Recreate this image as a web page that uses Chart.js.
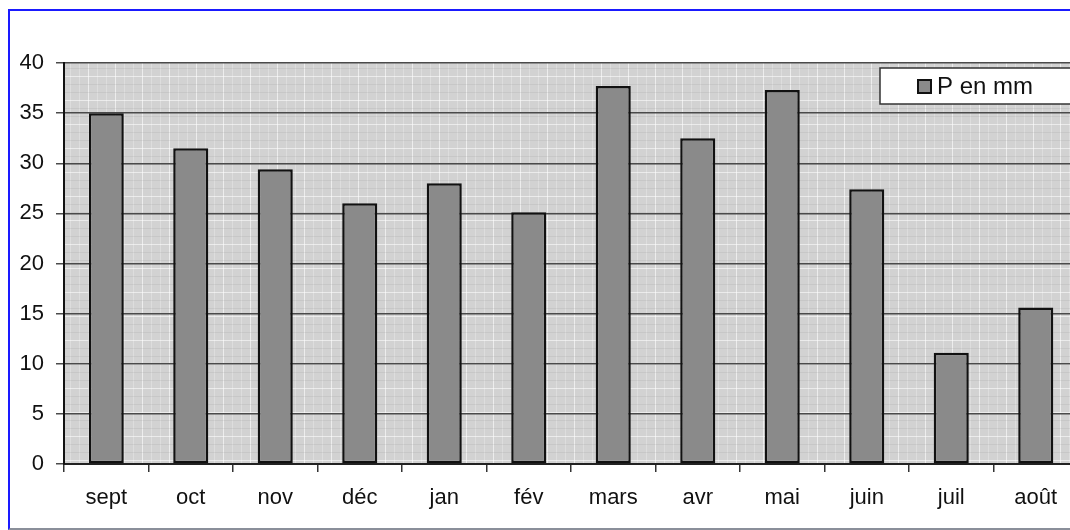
<!DOCTYPE html>
<html>
<head>
<meta charset="utf-8">
<script src="https://cdn.jsdelivr.net/npm/chart.js@4/dist/chart.umd.min.js"></script>
<style>
  html, body { margin: 0; padding: 0; width: 1070px; height: 530px; overflow: hidden; background: #fff; }
  #frame {
    position: absolute; left: 8px; top: 9px; width: 1080px; height: 517px;
    border-left: 2px solid #1a1aff; border-top: 2px solid #1a1aff; border-bottom: 2px solid #8a8f9a;
  }
  #wrap { position: absolute; left: 0; top: 0; width: 1100px; height: 530px; }
</style>
</head>
<body>
<div id="frame"></div>
<div id="wrap"><canvas id="c" width="1100" height="530"></canvas></div>
<script>
// Monthly precipitation, September to August
const months = ['sept', 'oct', 'nov', 'déc', 'jan', 'fév', 'mars', 'avr', 'mai', 'juin', 'juil', 'août'];
const precipitation = [35.0, 31.5, 29.4, 26.0, 28.0, 25.1, 37.7, 32.5, 37.3, 27.4, 11.1, 15.6];
const seriesLabel = 'P en mm';
const yTicks = [0, 5, 10, 15, 20, 25, 30, 35, 40];

const FONT = 'Liberation Sans, Arial, sans-serif';

// Grey plot background with a faint woven texture
const plotBackground = {
  id: 'plotBackground',
  beforeDraw(chart) {
    const { ctx, chartArea: a } = chart;
    ctx.save();
    ctx.fillStyle = '#d2d2d2';
    ctx.fillRect(a.left, a.top, a.right - a.left, a.bottom - a.top);
    ctx.lineWidth = 1;
    for (let x = a.left + 6; x < a.right; x += 9) {
      ctx.strokeStyle = (Math.floor(x / 9) % 3 === 0) ? 'rgba(255,255,255,0.6)' : 'rgba(255,255,255,0.25)';
      ctx.beginPath(); ctx.moveTo(x + 0.5, a.top); ctx.lineTo(x + 0.5, a.bottom); ctx.stroke();
    }
    for (let y = a.top + 5; y < a.bottom; y += 8) {
      ctx.strokeStyle = (Math.floor(y / 8) % 3 === 0) ? 'rgba(255,255,255,0.55)' : 'rgba(120,120,120,0.12)';
      ctx.beginPath(); ctx.moveTo(a.left, y + 0.5); ctx.lineTo(a.right, y + 0.5); ctx.stroke();
    }
    ctx.restore();
  }
};

// Legend box drawn inside the plot, top right
const insideLegend = {
  id: 'insideLegend',
  afterDraw(chart) {
    const { ctx } = chart;
    const ds = chart.data.datasets[0];
    const x = 880, y = 68, w = 200, h = 36;
    ctx.save();
    ctx.fillStyle = '#ffffff';
    ctx.fillRect(x, y, w, h);
    ctx.strokeStyle = '#333';
    ctx.lineWidth = 1.5;
    ctx.strokeRect(x, y, w, h);
    ctx.fillStyle = ds.backgroundColor;
    ctx.fillRect(918, 80, 13, 13);
    ctx.strokeStyle = '#111';
    ctx.lineWidth = 2;
    ctx.strokeRect(918, 80, 13, 13);
    ctx.fillStyle = '#111';
    ctx.font = '24px ' + FONT;
    ctx.textBaseline = 'middle';
    ctx.fillText(ds.label, 937, 87);
    ctx.restore();
  }
};

new Chart(document.getElementById('c'), {
  type: 'bar',
  data: {
    labels: months,
    datasets: [{
      label: seriesLabel,
      data: precipitation,
      backgroundColor: '#8a8a8a',
      borderColor: '#111111',
      borderWidth: 2.5,
      borderSkipped: false,
      categoryPercentage: 1,
      barPercentage: 0.415
    }]
  },
  options: {
    responsive: false,
    animation: false,
    layout: { padding: { top: 63, right: 22, left: 0, bottom: 0 } },
    plugins: { legend: { display: false }, tooltip: { enabled: false } },
    scales: {
      x: {
        offset: true,
        grid: { offset: true, drawOnChartArea: false, drawTicks: true, tickLength: 8, color: '#333', lineWidth: 1.5 },
        border: { display: true, color: '#222', width: 2 },
        ticks: { color: '#111', font: { family: FONT, size: 22 }, padding: 13, maxRotation: 0 },
        afterFit(scale) { scale.height = 66; }
      },
      y: {
        min: 0, max: 40,
        afterBuildTicks(scale) { scale.ticks = yTicks.map(v => ({ value: v })); },
        grid: { color: '#4a4a4a', lineWidth: 1.5, tickLength: 8 },
        border: { display: true, color: '#111', width: 2 },
        ticks: { color: '#111', font: { family: FONT, size: 22 }, padding: 12 },
        afterFit(scale) { scale.width = 64; }
      }
    }
  },
  plugins: [plotBackground, insideLegend]
});
</script>
</body>
</html>
